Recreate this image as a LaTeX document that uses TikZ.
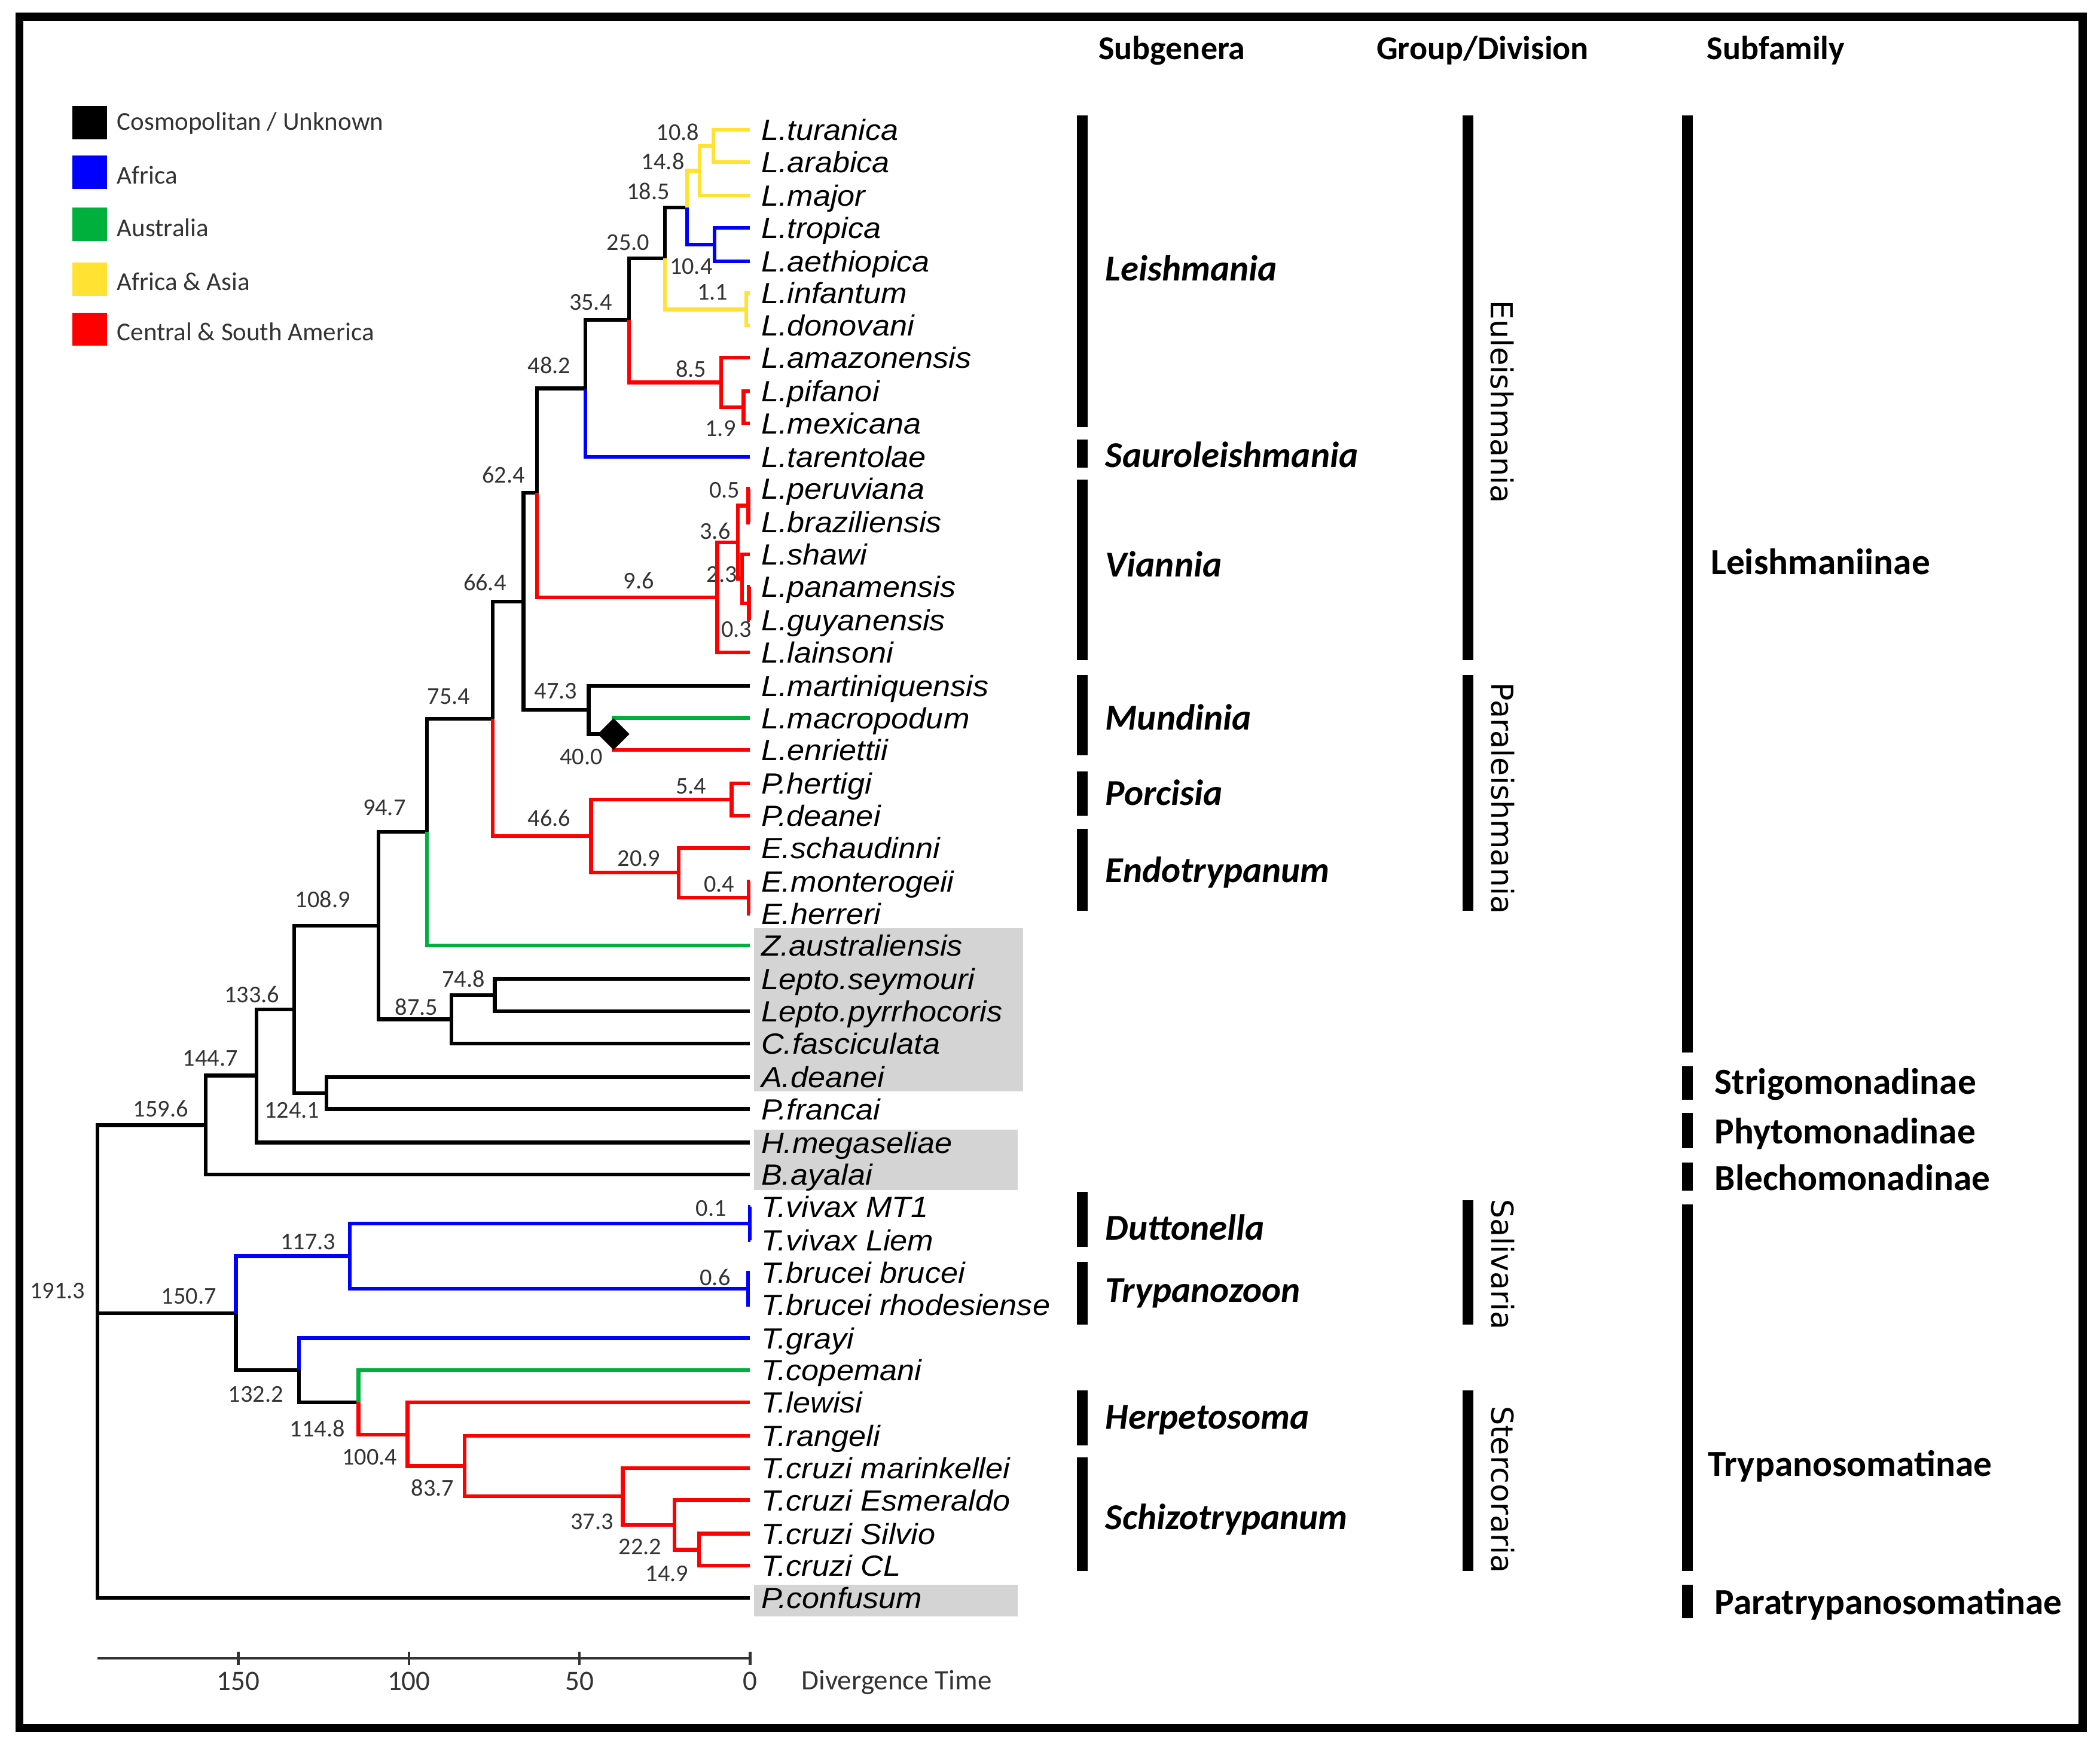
\documentclass[tikz,border=0pt]{standalone}
\usepackage{fontspec}
\setmainfont{Carlito}
\newfontfamily\taxfont[FakeStretch=1.07]{Liberation Sans}
\newfontfamily\grpfont{DejaVu Sans}
\usetikzlibrary{shapes.geometric}

\definecolor{afr}{RGB}{0,0,255}
\definecolor{aus}{RGB}{0,176,60}
\definecolor{afas}{RGB}{255,226,50}
\definecolor{amer}{RGB}{255,0,0}
\definecolor{boxgray}{RGB}{212,212,212}
\definecolor{numgray}{RGB}{51,51,51}

\begin{document}
\begin{tikzpicture}[x=0.5pt, y=-0.5pt,
    branch/.style={line width=1.4pt},
    taxon/.style={anchor=west, inner xsep=4pt, inner ysep=0pt, text height=7.8pt, text depth=0pt,
        font=\taxfont\itshape\fontsize{10.9}{12}\selectfont},
    age/.style={inner sep=0pt, text height=5.7pt, text depth=0pt, text=numgray,
        font=\fontsize{9}{10}\selectfont},
    legendtext/.style={anchor=west, inner sep=0pt, text height=6.2pt, text depth=0pt, text=numgray,
        font=\fontsize{9.6}{11}\selectfont},
    colhead/.style={inner sep=0pt, text height=8pt, text depth=0pt,
        font=\bfseries\fontsize{12.5}{14}\selectfont},
    subgen/.style={anchor=west, inner sep=0pt, text height=8.8pt, text depth=0pt,
        font=\bfseries\itshape\fontsize{13.6}{16}\selectfont},
    subfam/.style={anchor=west, inner sep=0pt, text height=8.8pt, text depth=0pt,
        font=\bfseries\fontsize{13.7}{16}\selectfont},
    grplabel/.style={rotate=-90, inner sep=0pt, text height=8.2pt, text depth=0pt,
        font=\grpfont\fontsize{11.3}{13}\selectfont},
    colbar/.style={line width=4pt},
    axisline/.style={line width=1pt, draw=numgray},
    axislabel/.style={inner sep=0pt, text height=6.6pt, text depth=0pt, text=numgray,
        font=\fontsize{10.5}{12}\selectfont}]
\useasboundingbox (0,0) rectangle (1568,1305);

% shaded taxa
\fill[boxgray] (563,693) rectangle (764,815);
\fill[boxgray] (563,843.5) rectangle (760,888.5);
\fill[boxgray] (563,1183) rectangle (760,1207);

% node ages
\foreach \xx/\yy/\lab [count=\k] in {506/99/10.8, 495/121/14.8, 484/143/18.5, 469/181/25.0,
    516/199/10.4, 532/218/1.1, 441/226/35.4, 516/276/8.5, 538/320/1.9, 410/273/48.2,
    376/355/62.4, 541/366/0.5, 534/397/3.6, 539/429/2.3, 550/470/0.3, 477/434/9.6,
    362/435/66.4, 415/516/47.3, 434/565/40.0, 335/520/75.4, 516/587/5.4, 410/611/46.6,
    477/641/20.9, 537/660/0.4, 287/603/94.7, 241/672/108.9, 346/731/74.8, 311/752/87.5,
    188/743/133.6, 218/829/124.1, 157/790/144.7, 120/828/159.6, 43/964/191.3,
    141/968/150.7, 230/927/117.3, 531/902/0.1, 534/954/0.6, 191/1041/132.2,
    237/1067/114.8, 276/1088/100.4, 323/1111/83.7, 442/1136/37.3, 478/1155/22.2,
    498/1175/14.9}
    \node[age] (age\k) at (\xx,\yy) {\lab};

\begin{scope}[x=-1.2735pt, xshift=280pt]
% internal nodes: (age, height)
\coordinate (n108) at (10.8,109);
\coordinate (n148) at (14.8,127.5);
\coordinate (n104) at (10.4,182.5);
\coordinate (n185) at (18.5,155);
\coordinate (n11) at (1.1,231);
\coordinate (n250) at (25.0,193);
\coordinate (n19) at (1.9,304);
\coordinate (n85) at (8.5,285.5);
\coordinate (n354) at (35.4,239);
\coordinate (n482) at (48.2,290);
\coordinate (n05) at (0.5,377.5);
\coordinate (n03) at (0.3,450.5);
\coordinate (n23) at (2.3,432);
\coordinate (n36) at (3.6,405);
\coordinate (n96) at (9.6,446);
\coordinate (n624) at (62.4,368);
\coordinate (n400) at (40.0,548);
\coordinate (n473) at (47.3,530);
\coordinate (n664) at (66.4,449);
\coordinate (n54) at (5.4,597);
\coordinate (n04) at (0.4,670);
\coordinate (n209) at (20.9,651.5);
\coordinate (n466) at (46.6,624);
\coordinate (n754) at (75.4,536.5);
\coordinate (n947) at (94.7,621);
\coordinate (n748) at (74.8,743);
\coordinate (n875) at (87.5,761);
\coordinate (n1089) at (108.9,691);
\coordinate (n1241) at (124.1,816);
\coordinate (n1336) at (133.6,753.5);
\coordinate (n1447) at (144.7,803);
\coordinate (n1596) at (159.6,840);
\coordinate (n01) at (0.1,913.5);
\coordinate (n06) at (0.6,962);
\coordinate (n1173) at (117.3,937.75);
\coordinate (n149) at (14.9,1157);
\coordinate (n222) at (22.2,1138.5);
\coordinate (n373) at (37.3,1117);
\coordinate (n837) at (83.7,1094.5);
\coordinate (n1004) at (100.4,1071);
\coordinate (n1148) at (114.8,1047);
\coordinate (n1322) at (132.2,1023);
\coordinate (n1507) at (150.7,980.4);
\coordinate (root) at (191.3,980.4);

% tips
\foreach \nm/\yy/\lab in {turanica/97/L.turanica, arabica/121/L.arabica, major/146/L.major,
    tropica/170/L.tropica, aethiopica/195/L.aethiopica, infantum/219/L.infantum,
    donovani/243/L.donovani, amazonensis/267/L.amazonensis, pifanoi/292/L.pifanoi,
    mexicana/316/L.mexicana, tarentolae/341/L.tarentolae, peruviana/365/L.peruviana,
    braziliensis/390/L.braziliensis, shawi/414/L.shawi, panamensis/438/L.panamensis,
    guyanensis/463/L.guyanensis, lainsoni/487/L.lainsoni, martiniquensis/512/L.martiniquensis,
    macropodum/536/L.macropodum, enriettii/560/L.enriettii, hertigi/585/P.hertigi,
    pdeanei/609/P.deanei, schaudinni/633/E.schaudinni, monterogeii/658/E.monterogeii,
    herreri/682/E.herreri, zaus/706/Z.australiensis, seymouri/731/Lepto.seymouri,
    pyrrhocoris/755/Lepto.pyrrhocoris, fasciculata/779/C.fasciculata, adeanei/804/A.deanei,
    francai/828/P.francai, megaseliae/853/H.megaseliae, ayalai/877/B.ayalai,
    vivaxmt/901/T.vivax MT1, vivaxliem/926/T.vivax Liem, bbrucei/950/T.brucei brucei,
    brhod/974/T.brucei rhodesiense, grayi/999/T.grayi, copemani/1023/T.copemani,
    lewisi/1047/T.lewisi, rangeli/1072/T.rangeli, marinkellei/1096/T.cruzi marinkellei,
    esmeraldo/1120/T.cruzi Esmeraldo, silvio/1145/T.cruzi Silvio, cruzicl/1169/T.cruzi CL,
    confusum/1193/P.confusum}
    \node[taxon] (\nm) at (0,\yy) {\lab};

% branches, by region
\foreach \pa/\ch in {n250/n185, n354/n250, n482/n354, n624/n482, n473/martiniquensis,
    n473/n400, n664/n624, n664/n473, n754/n664, n947/n754, n748/seymouri, n748/pyrrhocoris,
    n875/n748, n875/fasciculata, n1089/n947, n1089/n875, n1241/adeanei, n1241/francai,
    n1336/n1089, n1336/n1241, n1447/n1336, n1447/megaseliae, n1596/n1447, n1596/ayalai,
    n1322/n1148, n1507/n1322, root/n1596, root/n1507, root/confusum}
    \draw[branch] (\pa) |- (\ch);
\foreach \pa/\ch in {n108/turanica, n108/arabica, n148/n108, n148/major, n185/n148,
    n11/infantum, n11/donovani, n250/n11}
    \draw[branch, afas] (\pa) |- (\ch);
\foreach \pa/\ch in {n104/tropica, n104/aethiopica, n185/n104, n482/tarentolae,
    n01/vivaxmt, n01/vivaxliem, n06/bbrucei, n06/brhod, n1173/n01, n1173/n06,
    n1507/n1173, n1322/grayi}
    \draw[branch, afr] (\pa) |- (\ch);
\foreach \pa/\ch in {n400/macropodum, n947/zaus, n1148/copemani}
    \draw[branch, aus] (\pa) |- (\ch);
\foreach \pa/\ch in {n19/pifanoi, n19/mexicana, n85/amazonensis, n85/n19, n354/n85,
    n05/peruviana, n05/braziliensis, n03/panamensis, n03/guyanensis, n23/shawi, n23/n03,
    n36/n05, n36/n23, n96/n36, n96/lainsoni, n624/n96, n400/enriettii, n54/hertigi,
    n54/pdeanei, n04/monterogeii, n04/herreri, n209/schaudinni, n209/n04, n466/n54,
    n466/n209, n754/n466, n149/silvio, n149/cruzicl, n222/esmeraldo, n222/n149,
    n373/marinkellei, n373/n222, n837/rangeli, n837/n373, n1004/lewisi, n1004/n837,
    n1148/n1004}
    \draw[branch, amer] (\pa) |- (\ch);

\node[diamond, fill=black, inner sep=0pt, minimum width=12pt, minimum height=12pt] (split) at (n400) {};

% time axis
\draw[axisline] (191.3,1238) -- (0,1238);
\foreach \tt in {0,50,100,150} {
    \draw[axisline] (\tt,1233) -- (\tt,1243);
    \node[axislabel] (tick\tt) at (\tt,1255.5) {\tt};
}
\end{scope}
\node[axislabel, anchor=west] (divtime) at (598,1255) {Divergence Time};

% legend
\fill[black] (54,79) rectangle (80,104);
\node[legendtext] (keyblack) at (87,91) {Cosmopolitan / Unknown};
\fill[afr] (54,116) rectangle (80,141);
\node[legendtext] (keyafr) at (87,131) {Africa};
\fill[aus] (54,155) rectangle (80,180);
\node[legendtext] (keyaus) at (87,170.5) {Australia};
\fill[afas] (54,196) rectangle (80,221);
\node[legendtext] (keyafas) at (87,210.5) {Africa \& Asia};
\fill[amer] (54,233.5) rectangle (80,258);
\node[legendtext] (keyamer) at (87,248) {Central \& South America};

% classification columns
\node[colhead] (hsub) at (875,36.5) {Subgenera};
\node[colhead] (hgrp) at (1107,36.5) {Group/Division};
\node[colhead] (hfam) at (1326,36.5) {Subfamily};

\foreach \xx/\ya/\yb in {808/86/319, 808/328/349, 808/358/493, 808/504/564, 808/576/609,
    808/619/680, 808/890/931, 808/942/989, 808/1038/1079, 808/1088/1173,
    1096/86/493, 1096/504/680, 1096/896/989, 1096/1038/1173,
    1260/86/786, 1260/796/821, 1260/831/857, 1260/868/889, 1260/899/1173, 1260/1183/1208}
    \draw[colbar] (\xx,\ya) -- (\xx,\yb);

\foreach \yy/\lab in {201/Leishmania, 340/Sauroleishmania, 422/Viannia, 536/Mundinia,
    592.5/Porcisia, 650/Endotrypanum, 917/Duttonella, 963.5/Trypanozoon,
    1058/Herpetosoma, 1133/Schizotrypanum}
    \node[subgen] (sg\lab) at (825,\yy) {\lab};

\node[grplabel] (euleish) at (1121.5,300) {Euleishmania};
\node[grplabel] (paraleish) at (1122,596) {Paraleishmania};
\node[grplabel] (saliv) at (1122,944) {Salivaria};
\node[grplabel] (sterc) at (1122,1112) {Stercoraria};

\node[subfam] (leishmaniinae) at (1277,420) {Leishmaniinae};
\node[subfam] (strigo) at (1280,808) {Strigomonadinae};
\node[subfam] (phyto) at (1280,845) {Phytomonadinae};
\node[subfam] (blecho) at (1280,880) {Blechomonadinae};
\node[subfam] (trypano) at (1275,1093.5) {Trypanosomatinae};
\node[subfam] (paratryp) at (1280,1196.5) {Paratrypanosomatinae};

% frame
\draw[line width=3pt] (14.5,12.5) rectangle (1555,1290);
\end{tikzpicture}
\end{document}
